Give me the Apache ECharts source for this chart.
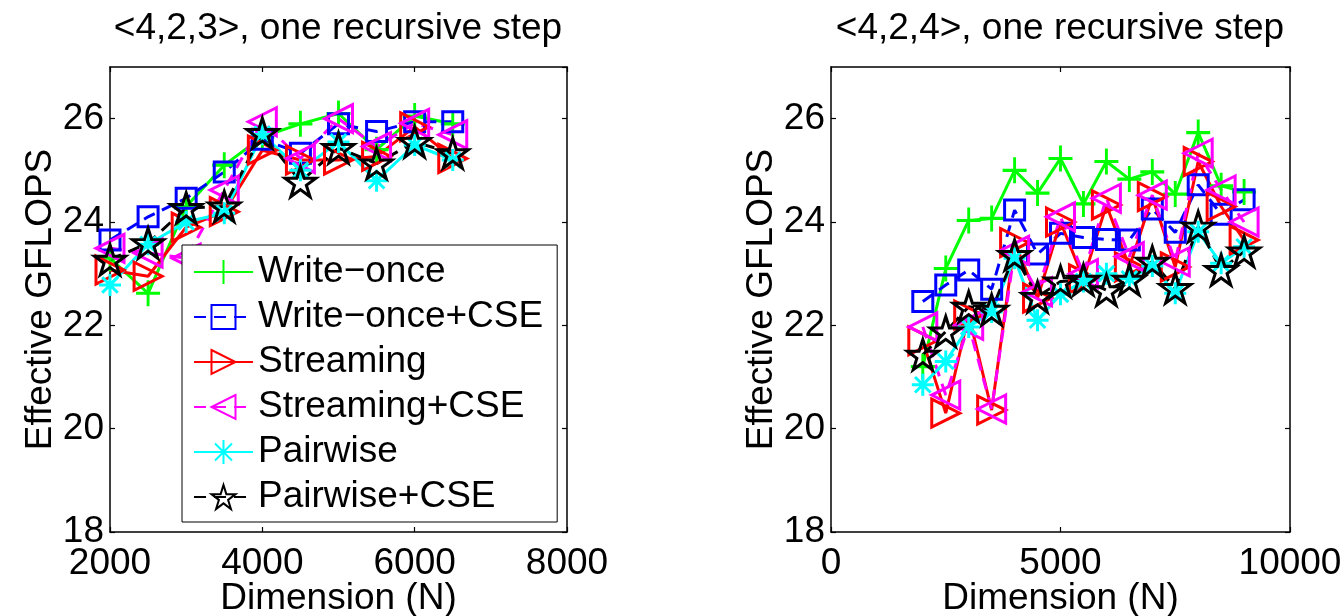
<!DOCTYPE html>
<html>
<head>
<meta charset="utf-8">
<script src="https://cdn.jsdelivr.net/npm/echarts@6/dist/echarts.min.js"></script>
<style>
html,body{margin:0;padding:0;background:#fff;}
#chart{width:1343px;height:616px;}
</style>
</head>
<body>
<div id="chart"></div>
<script>
// ---- data (left panel: <4,2,3>) ----
const xLeft = [2000, 2500, 3000, 3500, 4000, 4500, 5000, 5500, 6000, 6500];
const writeOnceL     = [23.3, 22.62, 24.3, 25.1, 25.65, 25.9, 26.1, 25.4, 26.05, 25.9];
const writeOnceCseL  = [23.65, 24.1, 24.46, 24.97, 25.6, 25.33, 25.9, 25.75, 25.94, 25.94];
const streamingL     = [23.07, 22.95, 23.9, 24.2, 25.39, 25.2, 25.2, 25.27, 25.84, 25.23];
const streamingCseL  = [23.49, 23.4, 23.3, 24.62, 25.94, 25.23, 26.0, 25.46, 25.91, 25.69];
const pairwiseL      = [22.78, 23.57, 24.0, 24.17, 25.7, 25.0, 25.55, 24.8, 25.49, 25.2];
const pairwiseCseL   = [23.27, 23.59, 24.27, 24.3, 25.72, 24.78, 25.43, 25.13, 25.55, 25.33];

// ---- data (right panel: <4,2,4>) ----
const xRight = [2000, 2500, 3000, 3500, 4000, 4500, 5000, 5500, 6000, 6500, 7000, 7500, 8000, 8500, 9000];
const writeOnceR     = [21.2, 23.1, 24.03, 24.07, 25.0, 24.56, 25.23, 24.35, 25.17, 24.83, 24.97, 24.54, 25.73, 24.7, 24.58];
const writeOnceCseR  = [22.46, 22.78, 23.07, 22.7, 24.23, 23.38, 23.78, 23.7, 23.66, 23.65, 24.25, 23.8, 24.72, 24.15, 24.43];
const streamingR     = [21.7, 20.3, 22.2, 20.36, 23.6, 22.53, 24.0, 22.9, 24.33, 23.13, 24.49, 23.13, 25.17, 24.3, 23.65];
const streamingCseR  = [21.97, 20.65, 22.0, 20.38, 23.45, 22.65, 24.1, 23.0, 24.46, 23.33, 24.52, 23.23, 25.33, 24.62, 24.0];
const pairwiseR      = [20.85, 21.3, 21.97, 22.26, 23.3, 22.1, 22.6, 22.85, 23.0, 22.9, 23.15, 22.62, 23.81, 23.2, 23.52];
const pairwiseCseR   = [21.43, 21.88, 22.36, 22.3, 23.36, 22.55, 22.85, 22.88, 22.68, 22.88, 23.23, 22.72, 23.91, 23.07, 23.43];

const seriesNames = ['Write\u2212once', 'Write\u2212once+CSE', 'Streaming', 'Streaming+CSE', 'Pairwise', 'Pairwise+CSE'];
const titles = ['<4,2,3>, one recursive step', '<4,2,4>, one recursive step'];
const xName = 'Dimension (N)';
const yName = 'Effective GFLOPS';

// ---- styling ----
const FONT = '"Liberation Sans", Arial, Helvetica, sans-serif';
const FS = 37;

function starPath() {
  let s = 'path://';
  for (let k = 0; k < 10; k++) {
    const r = (k % 2) ? 3.82 : 10;
    const a = -Math.PI / 2 + k * Math.PI / 5;
    s += (k ? 'L' : 'M') + (r * Math.cos(a)).toFixed(3) + ',' + (r * Math.sin(a)).toFixed(3) + ' ';
  }
  return s + 'Z';
}

const styles = [
  { color: '#00ff00', symbol: 'path://M0,-10 L0,10 M-10,0 L10,0', size: [24, 26], dash: 'solid' },
  { color: '#0000ff', symbol: 'rect', size: 20, dash: [12, 8] },
  { color: '#ff0000', symbol: 'path://M0,0 L10,5 L0,10 Z', size: [28, 28], dash: 'solid' },
  { color: '#ff00ff', symbol: 'path://M10,0 L0,5 L10,10 Z', size: [28, 28], dash: [12, 8] },
  { color: '#00ffff', symbol: 'path://M0,-10 L0,10 M-10,0 L10,0 M-7.07,-7.07 L7.07,7.07 M-7.07,7.07 L7.07,-7.07', size: [22, 22], dash: 'solid' },
  { color: '#000000', symbol: starPath(), size: [31, 30], dash: [12, 8] }
];

function mk(i, xs, ys, axisIdx) {
  const st = styles[i];
  return {
    type: 'line',
    name: seriesNames[i],
    xAxisIndex: axisIdx,
    yAxisIndex: axisIdx,
    data: xs.map((x, k) => [x, ys[k]]),
    symbol: st.symbol,
    symbolSize: st.size,
    symbolKeepAspect: false,
    showAllSymbol: true,
    clip: false,
    animation: false,
    lineStyle: { color: st.color, width: 3, type: st.dash },
    itemStyle: { color: 'rgba(0,0,0,0)', borderColor: st.color, borderWidth: 3 },
    emphasis: { disabled: true }
  };
}

const leftSeries = [writeOnceL, writeOnceCseL, streamingL, streamingCseL, pairwiseL, pairwiseCseL];
const rightSeries = [writeOnceR, writeOnceCseR, streamingR, streamingCseR, pairwiseR, pairwiseCseR];

const series = [];
leftSeries.forEach((ys, i) => series.push(mk(i, xLeft, ys, 0)));
rightSeries.forEach((ys, i) => series.push(mk(i, xRight, ys, 2)));

const axisLine = { show: true, onZero: false, lineStyle: { color: '#000', width: 1.5 } };
const tick = { show: true, inside: true, length: 5, lineStyle: { color: '#000', width: 1.2 } };
const lab = { color: '#000', fontSize: FS, fontFamily: FONT };

function xAx(grid, min, max, interval, pos, showLab) {
  return {
    type: 'value', gridIndex: grid, position: pos, min: min, max: max, interval: interval,
    axisLine: axisLine, axisTick: tick, splitLine: { show: false },
    axisLabel: Object.assign({ show: showLab, margin: 13, hideOverlap: false, formatter: v => String(v) }, lab),
    name: showLab ? xName : '', nameLocation: 'middle', nameGap: 48, nameMoveOverlap: false,
    nameTextStyle: { color: '#000', fontSize: FS, fontFamily: FONT }
  };
}
function yAx(grid, pos, showLab) {
  return {
    type: 'value', gridIndex: grid, position: pos, min: 18, max: 27, interval: 2,
    axisLine: axisLine, axisTick: tick, splitLine: { show: false },
    axisLabel: Object.assign({ show: showLab, margin: 6, showMaxLabel: false, formatter: v => String(v) }, lab),
    name: showLab ? yName : '', nameLocation: 'middle', nameGap: 51, nameMoveOverlap: false,
    nameTextStyle: { color: '#000', fontSize: FS, fontFamily: FONT }
  };
}

const option = {
  animation: false,
  backgroundColor: '#fff',
  textStyle: { fontFamily: FONT },
  grid: [
    { left: 110, top: 67, width: 457, height: 465, containLabel: false, outerBoundsMode: 'none' },
    { left: 831, top: 67, width: 459, height: 465, containLabel: false, outerBoundsMode: 'none' }
  ],
  xAxis: [
    xAx(0, 2000, 8000, 2000, 'bottom', true),
    xAx(0, 2000, 8000, 2000, 'top', false),
    xAx(1, 0, 10000, 5000, 'bottom', true),
    xAx(1, 0, 10000, 5000, 'top', false)
  ],
  yAxis: [
    yAx(0, 'left', true),
    yAx(0, 'right', false),
    yAx(1, 'left', true),
    yAx(1, 'right', false)
  ],
  legend: {
    data: seriesNames,
    orient: 'vertical',
    left: 182, top: 245,
    backgroundColor: '#fff',
    borderColor: '#000', borderWidth: 1,
    padding: [7, 14, 5, 11],
    itemWidth: 59, itemHeight: 30, itemGap: 5,
    selectedMode: false,
    textStyle: { color: '#000', fontSize: FS, fontFamily: FONT, lineHeight: 40 }
  },
  graphic: [
    { type: 'text', x: 338, y: 29, style: { text: titles[0], font: FS + 'px ' + FONT, fill: '#000', textAlign: 'center', textVerticalAlign: 'middle' } },
    { type: 'text', x: 1060, y: 29, style: { text: titles[1], font: FS + 'px ' + FONT, fill: '#000', textAlign: 'center', textVerticalAlign: 'middle' } }
  ],
  series: series
};

const chart = echarts.init(document.getElementById('chart'));
chart.setOption(option);
</script>
</body>
</html>
